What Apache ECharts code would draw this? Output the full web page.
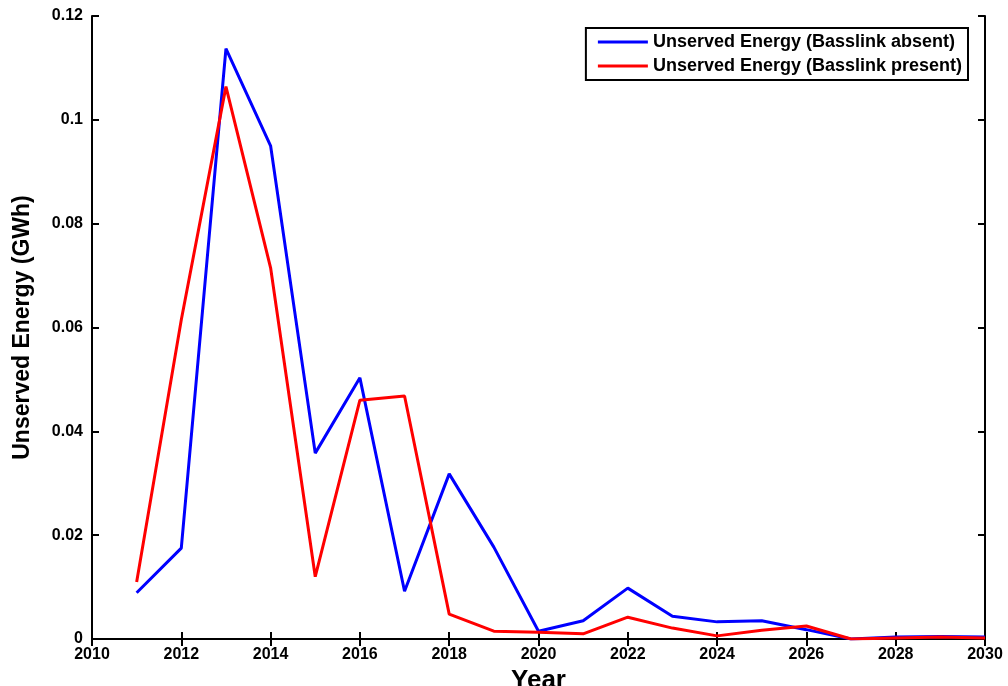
<!DOCTYPE html>
<html>
<head>
<meta charset="utf-8">
<script src="https://cdn.jsdelivr.net/npm/echarts@6/dist/echarts.min.js"></script>
<style>
  html, body { margin: 0; padding: 0; background: #fff; }
  #chart { width: 1008px; height: 686px; }
</style>
</head>
<body>
<div id="chart"></div>
<script>
// Annual unserved energy (GWh), 2011-2030
const years = [2011, 2012, 2013, 2014, 2015, 2016, 2017, 2018, 2019, 2020,
               2021, 2022, 2023, 2024, 2025, 2026, 2027, 2028, 2029, 2030];
const basslinkAbsent = [0.0089, 0.0175, 0.1137, 0.0950, 0.0358, 0.0503, 0.0092, 0.0318, 0.0177, 0.0015,
                        0.0035, 0.0098, 0.0044, 0.0033, 0.0035, 0.0018, 0.0000, 0.0004, 0.0005, 0.0004];
const basslinkPresent = [0.0110, 0.0615, 0.1064, 0.0715, 0.0120, 0.0460, 0.0468, 0.0048, 0.0015, 0.0013,
                         0.0010, 0.0042, 0.0021, 0.0006, 0.0017, 0.0025, 0.0000, 0.0002, 0.0004, 0.0002];
const yTickLabels = { 0: '0', 0.02: '0.02', 0.04: '0.04', 0.06: '0.06', 0.08: '0.08', 0.1: '0.1', 0.12: '0.12' };

const font = 'Liberation Sans, Arial, sans-serif';
const axisLine = { show: true, lineStyle: { color: '#000', width: 2 } };
const tickIn = { show: true, inside: true, length: 7, lineStyle: { color: '#000', width: 2 } };

const chart = echarts.init(document.getElementById('chart'));
chart.setOption({
  animation: false,
  backgroundColor: '#fff',
  grid: { left: 92, right: 23, top: 16, bottom: 47, containLabel: false, outerBoundsMode: 'none' },
  legend: {
    top: 28, right: 40,
    orient: 'vertical',
    itemWidth: 50, itemHeight: 3, itemGap: 6,
    padding: [5, 6, 5, 12],
    borderColor: '#000', borderWidth: 2,
    backgroundColor: '#fff',
    icon: 'rect',
    textStyle: { fontFamily: font, fontWeight: 'bold', fontSize: 18, color: '#000' },
    data: ['Unserved Energy (Basslink absent)', 'Unserved Energy (Basslink present)']
  },
  xAxis: [{
    type: 'value', min: 2010, max: 2030, interval: 2,
    name: 'Year', nameLocation: 'middle', nameGap: 25,
    nameTextStyle: { fontFamily: font, fontWeight: 'bold', fontSize: 26, color: '#000' },
    axisLine, axisTick: tickIn,
    axisLabel: {
      fontFamily: font, fontWeight: 'bold', fontSize: 16, color: '#000', margin: 8,
      formatter: v => String(v)
    },
    splitLine: { show: false }
  }, {
    type: 'value', min: 2010, max: 2030, interval: 2, position: 'top',
    axisLine, axisTick: tickIn, axisLabel: { show: false }, splitLine: { show: false }
  }],
  yAxis: [{
    type: 'value', min: 0, max: 0.12, interval: 0.02,
    name: 'Unserved Energy (GWh)', nameLocation: 'middle', nameGap: 58,
    nameTextStyle: { fontFamily: font, fontWeight: 'bold', fontSize: 23, color: '#000' },
    axisLine, axisTick: tickIn,
    axisLabel: {
      fontFamily: font, fontWeight: 'bold', fontSize: 16, color: '#000', margin: 9,
      formatter: v => yTickLabels[Math.round(v * 100) / 100] ?? String(v)
    },
    splitLine: { show: false }
  }, {
    type: 'value', min: 0, max: 0.12, interval: 0.02, position: 'right',
    axisLine, axisTick: tickIn, axisLabel: { show: false }, splitLine: { show: false }
  }],
  series: [{
    name: 'Unserved Energy (Basslink absent)',
    type: 'line',
    data: years.map((y, i) => [y, basslinkAbsent[i]]),
    showSymbol: false,
    lineStyle: { color: '#0000ff', width: 3 },
    itemStyle: { color: '#0000ff' }
  }, {
    name: 'Unserved Energy (Basslink present)',
    type: 'line',
    data: years.map((y, i) => [y, basslinkPresent[i]]),
    showSymbol: false,
    lineStyle: { color: '#ff0000', width: 3 },
    itemStyle: { color: '#ff0000' }
  }]
});
</script>
</body>
</html>
